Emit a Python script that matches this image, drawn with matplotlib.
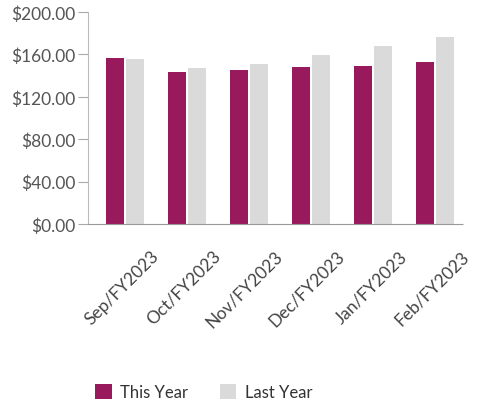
import matplotlib.pyplot as plt
import matplotlib.transforms as mtransforms
import numpy as np

plt.rcParams['font.family'] = ['Lato', 'DejaVu Sans']

# 資料
months = ["Sep/FY2023", "Oct/FY2023", "Nov/FY2023", "Dec/FY2023", "Jan/FY2023", "Feb/FY2023"]
this_year = [157, 143, 145.5, 148, 149, 153]
last_year = [156, 147.5, 151, 159, 167.5, 176]

fig = plt.figure(figsize=(4.84, 4.06), dpi=100)
ax = fig.add_axes([0.182, 0.446, 0.775, 0.522])

x = np.arange(len(months))
w = 0.29
ax.bar(x - 0.16, this_year, w, color="#98195c", label="This Year")
ax.bar(x + 0.16, last_year, w, color="#dadada", label="Last Year")

ax.set_xlim(-0.6, 5.45)
ax.set_ylim(0, 200)
ax.set_yticks([0, 40, 80, 120, 160, 200])
ax.set_yticklabels(["$%.2f" % v for v in [0, 40, 80, 120, 160, 200]])

# x軸標籤：旋轉45度，往右下偏移
ax.set_xticks([])
offset = mtransforms.ScaledTranslation(0.31, -0.29, fig.dpi_scale_trans)
for i, m in enumerate(months):
    ax.text(x[i], 0, m, rotation=45, ha="right", va="center", rotation_mode="anchor",
            fontsize=12.5, color="#444444",
            transform=ax.get_xaxis_transform() + offset)

ax.tick_params(axis="y", length=7, width=0.8, color="#aaaaaa", labelsize=12.5, labelcolor="#555555", pad=2)

for s in ["top", "right"]:
    ax.spines[s].set_visible(False)
ax.spines["left"].set_color("#bbbbbb")
ax.spines["bottom"].set_color("#999999")
ax.spines["bottom"].set_linestyle((0, (1, 1)))

fig.legend(loc="lower left", bbox_to_anchor=(0.165, -0.025), ncol=2, frameon=False,
           handlelength=1.0, handleheight=1.0, handletextpad=0.5, columnspacing=1.9,
           fontsize=12, labelcolor="#333333")

fig.savefig("out.png", dpi=100)
